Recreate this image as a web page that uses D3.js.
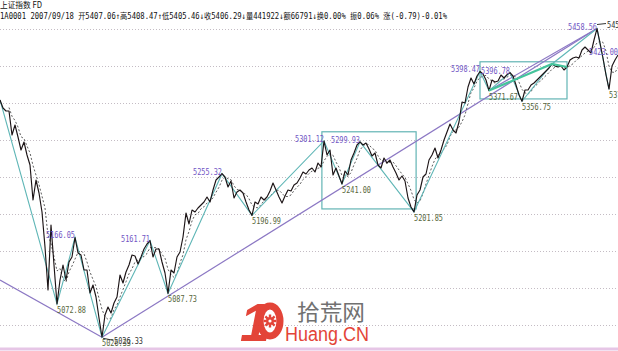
<!DOCTYPE html>
<html>
<head>
<meta charset="utf-8">
<script src="https://cdn.jsdelivr.net/npm/d3@7"></script>
<style>
body{margin:0;background:#fff;}
svg{display:block;}
</style>
</head>
<body>
<div id="chart"></div>
<script>
var W = 618, H = 351;

// 收盘价 (按K线序号)
var closes = [5358.5,5347.3,5343.1,5343.1,5309.5,5323.5,5306.7,5288.5,5299.7,5281.5,
	5267.5,5218.5,5246.5,5228.3,5201.7,5152.7,5092.5,5183.5,5127.5,5072.88,
	5106.5,5127.5,5106.5,5131.7,5138.7,5166.05,5144.3,5141.5,5120.5,5120.5,
	5088.3,5099.5,5082.7,5053.3,5026.33,5057.5,5068.7,5060.3,5074.3,5082.7,
	5113.5,5102.3,5117.7,5127.5,5141.5,5140.1,5128.9,5138.7,5149.9,5156.9,
	5161.71,5138.7,5149.9,5149.9,5131.7,5116.3,5087.73,5120.5,5116.3,5138.7,
	5145.7,5166.7,5200.3,5184.9,5204.5,5201.7,5207.3,5211.5,5215.7,5222.7,
	5215.7,5232.5,5246.5,5250.7,5255.32,5250.7,5236.7,5245.1,5221.3,5229.7,
	5232.5,5228.3,5215.7,5204.5,5196.99,5215.7,5212.9,5222.7,5218.5,5222.7,
	5231.1,5242.3,5232.5,5222.7,5214.3,5224.1,5232.5,5231.1,5239.5,5242.3,
	5249.3,5257.7,5254.9,5260.5,5263.3,5257.7,5270.3,5264.7,5301.12,5281.5,
	5288.5,5253.5,5263.3,5252.1,5241.00,5259.1,5253.5,5274.5,5284.3,5295.5,
	5299.93,5295.5,5298.3,5289.9,5280.1,5284.3,5267.5,5263.3,5277.3,5270.3,
	5274.5,5264.7,5256.3,5246.5,5252.1,5245.1,5221.3,5208.7,5201.85,5225.5,
	5232.5,5250.7,5254.9,5274.5,5281.5,5291.3,5277.3,5288.5,5302.5,5313.7,
	5324.9,5316.5,5312.3,5327.7,5355.7,5354.3,5376.7,5389.3,5380.9,5392.1,
	5398.47,5394.9,5386.5,5371.67,5386.5,5383.7,5385.1,5393.5,5389.3,5394.0,
	5396.78,5392.1,5379.5,5365.5,5356.75,5372.5,5372.5,5379.5,5382.3,5386.5,
	5390.7,5394.9,5399.1,5403.3,5408.9,5406.1,5404.7,5406.1,5400.5,5404.7,
	5414.5,5417.3,5418.7,5417.3,5428.5,5432.7,5428.5,5424.3,5442.5,5458.56,
	5438.3,5417.3,5393.5,5373.7,5406.1,5414.5,5421.5];

// 网格线价位
var gridTicks = [5043, 5095, 5147, 5199, 5251, 5302, 5354, 5406, 5458];

// 波段连线拐点
var waveBars   = [0, 19, 25, 34, 50, 56, 74, 84, 108, 114, 120, 138, 160, 163, 170, 174, 184, 199, 203];
var wavePrices = [5358.5, 5072.88, 5166.05, 5026.33, 5161.71, 5087.73, 5255.32, 5196.99, 5301.12, 5241.00,
	5299.93, 5201.85, 5398.47, 5371.67, 5396.78, 5356.75, 5408.9, 5458.56, 5373.7];

// 高点标注
var highBars   = [25, 50, 74, 108, 120, 160, 170, 199, 206];
var highPrices = [5166.05, 5161.71, 5255.32, 5301.12, 5299.93, 5398.47, 5396.78, 5458.56, 5423.00];
// 低点标注
var lowBars   = [19, 34, 56, 84, 114, 138, 163, 174, 203];
var lowPrices = [5072.88, 5026.33, 5087.73, 5196.99, 5241.00, 5201.85, 5371.67, 5356.75, 5373.71];

// 趋势线 [起点bar, 起点价, 终点bar, 终点价]
var trendLines = [
	[0, 5106.5, 34, 5026.33],
	[34, 5026.33, 199, 5458.56],
	[163, 5371.67, 199, 5458.56]
];
// 加粗绿色线
var greenBars   = [163, 184, 189];
var greenPrices = [5371.67, 5408.9, 5404.7];
// 方框 [左bar, 右bar, 上价, 下价]
var boxes = [
	[107.3, 138.7, 5314, 5206],
	[160, 189, 5412, 5360]
];

var headTitle = '上证指数 FD';
var headInfo = '1A0001 2007/09/18 开5407.06↑高5408.47↑低5405.46↓收5406.29↓量441922↓额66791↓换0.00% 振0.06% 涨(-0.79)-0.01%';

var svg = d3.select('#chart').append('svg')
	.attr('width', W).attr('height', H);

var x = d3.scaleLinear().domain([0, 206]).range([0, 618]);
var y = d3.scaleLinear().domain([5007.1, 5498.5]).range([351, 0]);

// 网格
svg.append('g').selectAll('line').data(gridTicks).enter().append('line')
	.attr('x1', 0).attr('x2', W)
	.attr('y1', function(d){ return Math.round(y(d)) + 0.5; })
	.attr('y2', function(d){ return Math.round(y(d)) + 0.5; })
	.attr('stroke', '#c4bcc4').attr('stroke-dasharray', '1,2');

// 底部线
svg.append('rect').attr('x', 0).attr('y', 347.5).attr('width', W).attr('height', 3)
	.attr('fill', '#e6c6e6');

// 水印
var logo = svg.append('g').attr('opacity', 0.95);
logo.append('text').text('1')
	.attr('x', 240).attr('y', 341)
	.attr('font-family', 'Liberation Sans').attr('font-weight', 'bold').attr('font-style', 'italic')
	.attr('font-size', 54).attr('fill', '#e23a2e');
logo.append('ellipse').attr('cx', 270).attr('cy', 321).attr('rx', 10).attr('ry', 15)
	.attr('fill', 'none').attr('stroke', '#e23a2e').attr('stroke-width', 7);
var gear = logo.append('g').attr('transform', 'translate(270,321)');
d3.range(8).forEach(function(k){
	gear.append('rect').attr('x', -1.2).attr('y', -6.5).attr('width', 2.4).attr('height', 3)
		.attr('fill', '#e23a2e').attr('transform', 'rotate(' + (k * 45) + ')');
});
gear.append('circle').attr('r', 4).attr('fill', '#e23a2e');
gear.append('circle').attr('r', 1.6).attr('fill', '#fff');
logo.append('text').text('拾荒网')
	.attr('x', 297).attr('y', 320)
	.attr('font-family', 'Noto Sans CJK SC').attr('font-size', 22).attr('fill', '#6a6a6a')
	.attr('textLength', 68).attr('lengthAdjust', 'spacingAndGlyphs');
logo.append('text').text('Huang.CN')
	.attr('x', 285).attr('y', 341)
	.attr('font-family', 'Liberation Sans').attr('font-size', 20).attr('fill', '#e23a2e')
	.attr('textLength', 84).attr('lengthAdjust', 'spacingAndGlyphs');

// 方框
svg.append('g').selectAll('rect').data(boxes).enter().append('rect')
	.attr('x', function(d){ return x(d[0]); })
	.attr('y', function(d){ return y(d[2]); })
	.attr('width', function(d){ return x(d[1]) - x(d[0]); })
	.attr('height', function(d){ return y(d[3]) - y(d[2]); })
	.attr('fill', 'none').attr('stroke', '#62b4b4').attr('stroke-width', 1.2);

// 趋势线
svg.append('g').selectAll('line').data(trendLines).enter().append('line')
	.attr('x1', function(d){ return x(d[0]); }).attr('y1', function(d){ return y(d[1]); })
	.attr('x2', function(d){ return x(d[2]); }).attr('y2', function(d){ return y(d[3]); })
	.attr('stroke', '#8c78c4').attr('stroke-width', 1.2);

// 均线 (收盘价4周期平均)
var ma = closes.map(function(c, i){
	if(i < 3) return null;
	return d3.mean(closes.slice(i - 3, i + 1));
});
var line = d3.line()
	.defined(function(d){ return d != null; })
	.x(function(d, i){ return x(i); })
	.y(function(d){ return y(d); });

svg.append('path').datum(ma)
	.attr('d', line)
	.attr('fill', 'none').attr('stroke', '#333').attr('stroke-width', 0.8)
	.attr('stroke-dasharray', '2,2');

// 波段连线
var waveLine = d3.line()
	.x(function(d){ return x(d[0]); })
	.y(function(d){ return y(d[1]); });
svg.append('path').datum(d3.zip(waveBars, wavePrices))
	.attr('d', waveLine)
	.attr('fill', 'none').attr('stroke', '#5fb6b6').attr('stroke-width', 1.1);

// 价格线
svg.append('path').datum(closes)
	.attr('d', line)
	.attr('fill', 'none').attr('stroke', '#1c1416').attr('stroke-width', 1.15)
	.attr('stroke-linejoin', 'round');

// 加粗绿线
svg.append('path').datum(d3.zip(greenBars, greenPrices))
	.attr('d', waveLine)
	.attr('fill', 'none').attr('stroke', '#45c49c').attr('stroke-width', 2.2);

// 标注
var labelFont = 'DejaVu Sans Mono';
svg.append('g').selectAll('text').data(d3.zip(highBars, highPrices)).enter().append('text')
	.text(function(d){ return d[1].toFixed(2); })
	.attr('x', function(d){ return x(d[0]); })
	.attr('y', function(d){ return y(d[1]) + 1; })
	.attr('text-anchor', 'end')
	.attr('font-family', labelFont).attr('font-size', 9.5).attr('fill', '#7055c4')
	.attr('textLength', 29).attr('lengthAdjust', 'spacingAndGlyphs');

svg.append('g').selectAll('text').data(d3.zip(lowBars, lowPrices)).enter().append('text')
	.text(function(d){ return d[1].toFixed(2); })
	.attr('x', function(d){ return x(d[0]); })
	.attr('y', function(d){ return y(d[1]) + 9; })
	.attr('font-family', labelFont).attr('font-size', 9.5).attr('fill', '#56663a')
	.attr('textLength', 29).attr('lengthAdjust', 'spacingAndGlyphs');

// 趋势线端点标记
var tags = svg.append('g');
tags.append('line')
	.attr('x1', x(199)).attr('y1', y(5458.56) - 4)
	.attr('x2', x(199) + 9).attr('y2', y(5458.56) - 5)
	.attr('stroke', '#333');
tags.append('text').text('5458.56')
	.attr('x', x(199) + 10).attr('y', y(5458.56) - 1)
	.attr('font-family', labelFont).attr('font-size', 9.5).attr('fill', '#333')
	.attr('textLength', 29).attr('lengthAdjust', 'spacingAndGlyphs');
tags.append('line')
	.attr('x1', x(34) + 1).attr('y1', y(5026.33) + 1)
	.attr('x2', x(34) + 11).attr('y2', y(5026.33) + 3)
	.attr('stroke', '#333');
tags.append('text').text('5026.33')
	.attr('x', x(34) + 12).attr('y', y(5026.33) + 7)
	.attr('font-family', labelFont).attr('font-size', 9.5).attr('fill', '#333')
	.attr('textLength', 29).attr('lengthAdjust', 'spacingAndGlyphs');

// 表头
svg.append('text').text(headTitle)
	.attr('x', 0).attr('y', 8)
	.attr('font-family', 'Noto Sans CJK SC').attr('font-size', 8.5).attr('fill', '#111')
	.attr('textLength', 42).attr('lengthAdjust', 'spacingAndGlyphs');
svg.append('text').text(headInfo)
	.attr('x', 0).attr('y', 19)
	.attr('font-family', 'DejaVu Sans Mono, Noto Sans CJK SC').attr('font-size', 8.5).attr('fill', '#111')
	.attr('textLength', 447).attr('lengthAdjust', 'spacingAndGlyphs');
</script>
</body>
</html>
